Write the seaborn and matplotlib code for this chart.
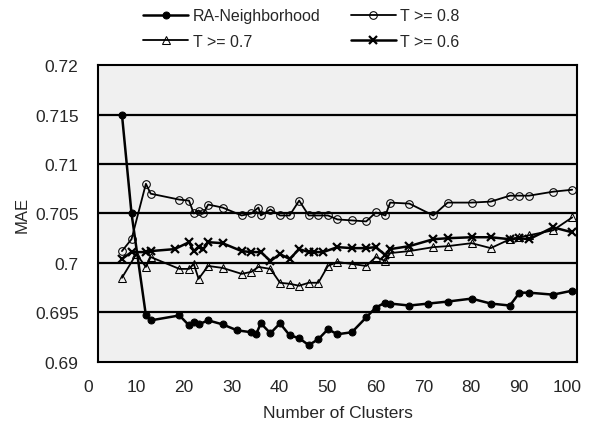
import numpy as np
import pandas as pd
import matplotlib
matplotlib.use("Agg")
import matplotlib.pyplot as plt
import matplotlib.transforms as mtransforms
import seaborn as sns

# values
ra_x = [5, 7, 10, 11, 17, 19, 20, 21, 23, 26, 29, 32, 33, 34, 36, 38, 40, 42, 44, 46,
        48, 50, 53, 56, 58, 60, 61, 65, 69, 73, 78, 82, 86, 88, 90, 95, 99]
ra_y = [0.715, 0.705, 0.6947, 0.6942, 0.6947, 0.6937, 0.6940, 0.6938, 0.6942, 0.6938,
        0.6932, 0.6930, 0.6928, 0.6939, 0.6929, 0.6939, 0.6927, 0.6924, 0.6917, 0.6923,
        0.6933, 0.6928, 0.6930, 0.6945, 0.6955, 0.6960, 0.6959, 0.6957, 0.6959, 0.6961,
        0.6964, 0.6959, 0.6957, 0.6970, 0.6970, 0.6968, 0.6972]

t8_x = [5, 7, 10, 11, 17, 19, 20, 21, 22, 23, 26, 30, 32, 33.5, 34, 36, 38, 40, 42, 44,
        46, 48, 50, 53, 56, 58, 60, 61, 65, 70, 73, 78, 82, 86, 88, 90, 95, 99]
t8_y = [0.7012, 0.7024, 0.7080, 0.7070, 0.7064, 0.7063, 0.7050, 0.7053, 0.7050, 0.7059,
        0.7056, 0.7048, 0.7050, 0.7056, 0.7048, 0.7054, 0.7048, 0.7048, 0.7063, 0.7048,
        0.7048, 0.7048, 0.7044, 0.7043, 0.7042, 0.7051, 0.7048, 0.7061, 0.7060, 0.7048,
        0.7061, 0.7061, 0.7062, 0.7068, 0.7068, 0.7068, 0.7072, 0.7074]

t7_x = [5, 8, 10, 11, 17, 19, 20, 21, 23, 26, 30, 32, 33.5, 36, 38, 40, 42, 44, 46, 48,
        50, 53, 56, 58, 60, 61, 65, 70, 73, 78, 82, 86, 88, 90, 95, 99]
t7_y = [0.6985, 0.7009, 0.6996, 0.7006, 0.6994, 0.6994, 0.6999, 0.6984, 0.6997, 0.6995,
        0.6989, 0.6991, 0.6996, 0.6994, 0.6980, 0.6979, 0.6977, 0.6980, 0.6980, 0.6997,
        0.7001, 0.6999, 0.6997, 0.7006, 0.7002, 0.7010, 0.7012, 0.7016, 0.7017, 0.7020,
        0.7015, 0.7024, 0.7026, 0.7028, 0.7033, 0.7046]

t6_x = [5, 7, 10, 11, 16, 19, 20, 21, 22, 23, 26, 30, 32, 34, 36, 38, 40, 42, 44, 45,
        47, 50, 53, 56, 58, 60, 61, 65, 70, 73, 78, 82, 86, 88, 90, 95, 99]
t6_y = [0.7004, 0.7011, 0.7011, 0.7012, 0.7014, 0.7021, 0.7012, 0.7016, 0.7014, 0.7021,
        0.7020, 0.7012, 0.7011, 0.7011, 0.7002, 0.7009, 0.7004, 0.7014, 0.7011, 0.7011,
        0.7011, 0.7016, 0.7015, 0.7015, 0.7016, 0.7008, 0.7014, 0.7017, 0.7024, 0.7025,
        0.7026, 0.7026, 0.7024, 0.7025, 0.7024, 0.7036, 0.7031]

y_ticks = [0.69, 0.695, 0.7, 0.705, 0.71, 0.715, 0.72]
y_labels = ["0.69", "0.695", "0.7", "0.705", "0.71", "0.715", "0.72"]
x_ticks = list(range(0, 101, 10))

sns.set_style("white")
plt.rcParams['font.family'] = ['Liberation Sans', 'DejaVu Sans']

fig = plt.figure(figsize=(5.99, 4.27), dpi=100)
ax = fig.add_axes([0.1636, 0.15, 0.7996, 0.6954])
ax.set_facecolor("#f0f0f0")

# horizontal black gridlines
for v in y_ticks[1:-1]:
    ax.axhline(v, color="black", lw=1.6, zorder=1)

sns.lineplot(x=ra_x, y=ra_y, ax=ax, color="black", lw=1.8, marker="o", markersize=5,
             markerfacecolor="black", markeredgecolor="black", label="RA-Neighborhood", zorder=3)
sns.lineplot(x=t7_x, y=t7_y, ax=ax, color="black", lw=1.3, marker="^", markersize=5.5,
             markerfacecolor="none", markeredgecolor="black", label="T >= 0.7", zorder=3)
sns.lineplot(x=t8_x, y=t8_y, ax=ax, color="black", lw=1.3, marker="o", markersize=5.5,
             markerfacecolor="none", markeredgecolor="black", label="T >= 0.8", zorder=3)
sns.lineplot(x=t6_x, y=t6_y, ax=ax, color="black", lw=1.8, marker="x", markersize=6,
             markeredgewidth=1.6, markeredgecolor="black", label="T >= 0.6", zorder=3)

ax.set_xlim(0, 100)
ax.set_ylim(0.69, 0.72)
ax.set_xticks(x_ticks)
ax.set_yticks(y_ticks)
ax.set_yticklabels(y_labels)
ax.tick_params(axis="both", labelsize=12.5, length=0)
ax.tick_params(axis="y", pad=14)
ax.tick_params(axis="x", pad=12)
ax.set_xlabel("Number of Clusters", fontsize=12.5, labelpad=8)
ax.set_ylabel("MAE", fontsize=12, labelpad=4)

# x tick labels sit a little left of their ticks in the original
shift = mtransforms.ScaledTranslation(-10 / 100, 0, fig.dpi_scale_trans)
for lbl in ax.get_xticklabels():
    lbl.set_transform(lbl.get_transform() + shift)

for s in ax.spines.values():
    s.set_color("black")
    s.set_linewidth(1.5)

ax.legend(loc="upper left", bbox_to_anchor=(140 / 599, 1 - 6 / 427),
          bbox_transform=fig.transFigure, ncol=2, frameon=False,
          fontsize=11.5, handlelength=2.8, columnspacing=1.9, handletextpad=0.3,
          labelspacing=0.65, borderaxespad=0.0, borderpad=0.2)

fig.savefig("out.png", dpi=100)
